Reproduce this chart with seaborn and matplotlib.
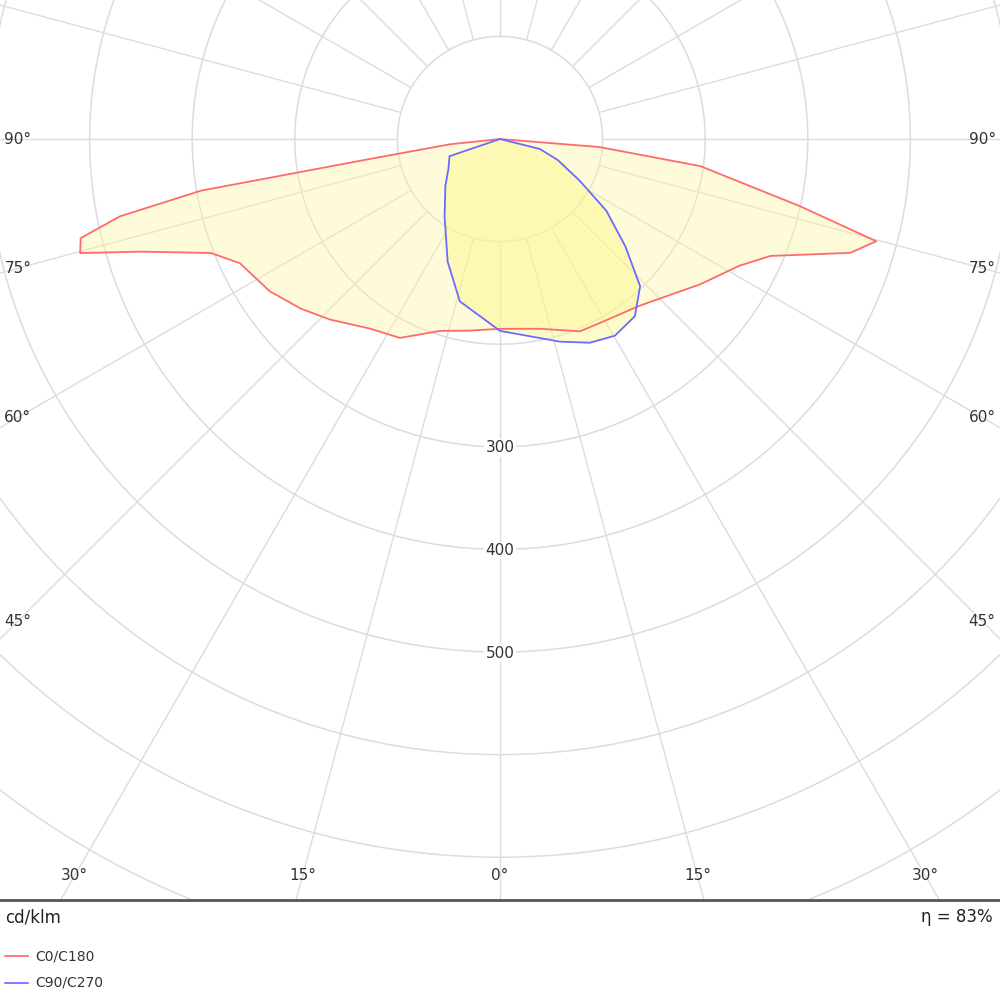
import numpy as np
import seaborn as sns
import matplotlib.pyplot as plt
from matplotlib.lines import Line2D

sns.set_style('white')
plt.rcParams['font.family'] = ['DejaVu Sans']

# C0/C180 curve: signed gamma angle (negative = C180 side), intensity cd/klm
c0_angle = [-90, -84, -81.3, -80.2, -78.5, -76.7, -74.8, -72.6, -68.5, -64.5, -56.5, -49.6,
            -43.4, -34.4, -26.7, -17.4, -8.9, 0, 11.9, 22.6, 28.5, 40, 54, 62.1, 66.6, 72,
            74.8, 77.4, 82.3, 85.4, 90]
c0_val = [0, 49, 128, 296, 378, 420, 424, 367, 303, 281, 269, 255,
          242, 224, 217, 196, 189, 185, 189, 203, 204, 212, 241, 264, 287, 359,
          380, 299, 197, 97, 0]
# C90/C270 curve
c90_angle = [-90, -71.2, -60, -49.5, -35.5, -23.1, -13.9, 0, 16.5, 23.8, 30.3, 37.3, 43.6, 49.4, 56, 62.3, 70, 76, 90]
c90_val = [0, 52, 58, 70, 93, 130, 163, 187, 206, 217, 222, 217, 198, 161, 125, 88, 60, 40, 0]

ring_values = np.arange(100, 1000, 100)
ring_labels = [300, 400, 500]
spoke_angles = np.arange(0, 360, 15)
bottom_labels = [-30, -15, 0, 15, 30]
side_labels = [45, 60, 75, 90]


def to_xy(ang, val):
    a = np.radians(ang)
    v = np.array(val, dtype=float)
    return v * np.sin(a), -v * np.cos(a)


fig = plt.figure(figsize=(10, 10), dpi=100)
ax = fig.add_axes([0, 0.1, 1, 0.9])
ax.set_xlim(-487.3, 487.3)
ax.set_ylim(-741.7, 135.5)
ax.set_aspect('equal')
ax.axis('off')

grid = '#dcdcdc'
t = np.linspace(0, 2 * np.pi, 400)
for r in ring_values:
    ax.plot(r * np.cos(t), r * np.sin(t), color=grid, lw=1.1, zorder=1)
for s in spoke_angles:
    a = np.radians(s)
    ax.plot([100 * np.sin(a), 1200 * np.sin(a)], [-100 * np.cos(a), -1200 * np.cos(a)],
            color=grid, lw=1.0, zorder=1)

x0, y0 = to_xy(c0_angle, c0_val)
x9, y9 = to_xy(c90_angle, c90_val)
ax.fill(x0, y0, color='#fbf7a0', alpha=0.4, lw=0, zorder=2)
ax.fill(x9, y9, color='#fdf78a', alpha=0.45, lw=0, zorder=2)
sns.lineplot(x=x0, y=y0, sort=False, estimator=None, color='#ff6b6b', lw=1.3, ax=ax, zorder=3)
sns.lineplot(x=x9, y=y9, sort=False, estimator=None, color='#6b6bff', lw=1.3, ax=ax, zorder=3)

for r in ring_labels:
    ax.text(0, -r - 1, str(r), ha='center', va='center', fontsize=11, color='#333333',
            bbox=dict(facecolor='white', edgecolor='none', pad=1), zorder=4)
for b in bottom_labels:
    ax.text(-718 * np.tan(np.radians(b)), -718, f'{abs(b)}°', ha='center', va='center',
            fontsize=11, color='#333333', zorder=4)
for s in side_labels:
    y = -470 / np.tan(np.radians(s)) if s != 90 else 0
    ax.text(-470, y, f'{s}°', ha='center', va='center', fontsize=11, color='#333333', zorder=4)
    ax.text(470, y, f'{s}°', ha='center', va='center', fontsize=11, color='#333333', zorder=4)

fig.add_artist(Line2D([0, 1], [0.1, 0.1], color='#555555', lw=2))
fig.text(0.005, 0.083, 'cd/klm', fontsize=12, va='center', color='#222222')
fig.text(0.993, 0.083, 'η = 83%', fontsize=12, va='center', ha='right', color='#222222')
fig.add_artist(Line2D([0.005, 0.028], [0.044, 0.044], color='#ff8080', lw=1.5))
fig.add_artist(Line2D([0.005, 0.028], [0.017, 0.017], color='#8080ff', lw=1.5))
fig.text(0.035, 0.044, 'C0/C180', fontsize=10, va='center', color='#333333')
fig.text(0.035, 0.017, 'C90/C270', fontsize=10, va='center', color='#333333')

fig.savefig('out.png', dpi=100)
